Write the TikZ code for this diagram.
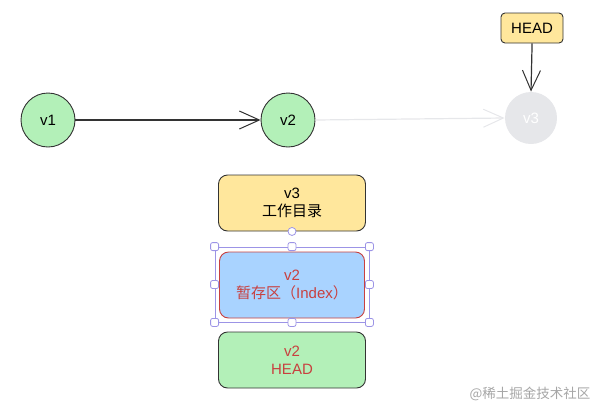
\documentclass[tikz,border=0pt]{standalone}
\usepackage{fontspec}
\setmainfont{Liberation Sans}
\newfontfamily\cjk{Noto Sans CJK SC}
\usetikzlibrary{arrows.meta}
\usetikzlibrary{positioning}
\definecolor{commitgreen}{HTML}{B3F0B8}
\definecolor{ghostgray}{HTML}{E6E7EA}
\definecolor{headyellow}{HTML}{FFE79C}
\definecolor{indexblue}{HTML}{A9D3FF}
\definecolor{edgedark}{HTML}{333333}
\definecolor{textred}{HTML}{C8403F}
\definecolor{selpurple}{HTML}{9C94E6}
\begin{document}
\begin{tikzpicture}[
    x=1pt, y=-1pt,
    commit/.style={circle, draw=edgedark, line width=0.9pt, fill=commitgreen,
        minimum size=54pt, inner sep=0pt, font=\fontsize{15}{18}\selectfont},
    area/.style={rectangle, rounded corners=9pt, draw=edgedark, line width=0.9pt,
        minimum width=147pt, minimum height=56pt, align=center,
        font=\fontsize{15}{18}\selectfont},
    handle/.style={rectangle, rounded corners=2pt, draw=selpurple, fill=white,
        line width=0.8pt, minimum size=8pt, inner sep=0pt},
    >={Straight Barb[length=20pt, width=18pt, line width=1pt]}
]
\useasboundingbox (0,0) rectangle (596,405);

% --- Commits ---
\node[commit] (v1) at (48,120) {v1};
\node[commit] (v2) at (288,120) {v2};
\node[commit, draw=none, fill=ghostgray, text=white, minimum size=52pt] (v3) at (531,118) {v3};

% --- HEAD pointer ---
\node[rectangle, rounded corners=4pt, draw=edgedark, line width=0.9pt, fill=headyellow,
    minimum width=62pt, minimum height=30pt, font=\fontsize{15}{18}\selectfont] (head) at (532,28) {HEAD};

% --- Commit links ---
\draw[->, edgedark, line width=1.2pt] (v1.east) -- (v2.west);
\draw[->, ghostgray, line width=1.2pt] (v2.east) -- (v3.west);
\draw[->, edgedark, line width=1.2pt] (head.south) -- ++(0,4) -- (v3.north);

% --- Three areas ---
\node[area, fill=headyellow] (wdir) at (292,203) {v3\\{\cjk 工作目录}};
\node[area, fill=indexblue, draw=textred, text=textred, minimum width=145pt, minimum height=66pt] (index) at (292,285) {v2\\{\cjk 暂存区（}Index{\cjk ）}};
\node[area, fill=commitgreen, text=textred] (repo) at (292,360) {v2\\HEAD};

% --- Selection frame ---
\node[rectangle, draw=selpurple, line width=0.8pt, minimum width=154pt, minimum height=75pt] (sel) at (292,284.5) {};
\foreach \a in {north west, north, north east, east, south east, south, south west, west}
    \node[handle] at (sel.\a) {};
\node[handle, circle, minimum size=8pt] (hook) at (wdir.south) {};

% --- Watermark ---
\node[text=gray!70, font=\cjk\fontsize{13.5}{16}\selectfont] (mark) at (530,394) {@稀土掘金技术社区};

\end{tikzpicture}
\end{document}
